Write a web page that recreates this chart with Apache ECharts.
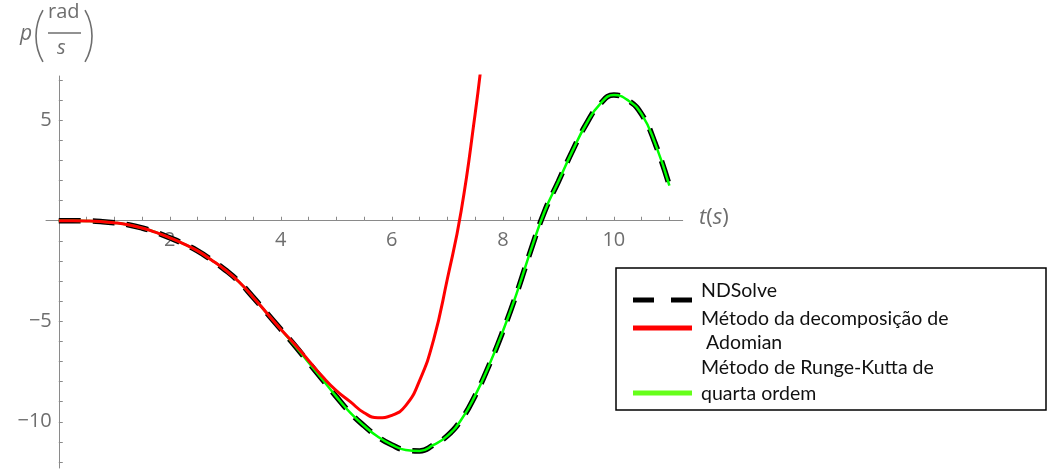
<!DOCTYPE html>
<html>

<head>
    <meta charset='utf-8'>
    <title>p(t)</title>
    <script src='https://cdn.jsdelivr.net/npm/echarts@6/dist/echarts.min.js'></script>
    <style>
        html, body { margin: 0; padding: 0; background: #fff; }
        #chart { width: 1056px; height: 470px; }
    </style>
</head>

<body>
    <div id='chart'></div>

    <script type='text/javascript'>
        // values
        const tSteps = [0, 0.25, 0.5, 0.75, 1, 1.25, 1.5, 1.75, 2, 2.25, 2.5, 2.75, 3, 3.25, 3.5, 3.75, 4,
            4.25, 4.5, 4.75, 5, 5.25, 5.5, 5.75, 6, 6.25, 6.5, 6.75, 7, 7.25, 7.5, 7.75, 8, 8.25, 8.5,
            8.75, 9, 9.25, 9.5, 9.75, 10, 10.25, 10.5, 10.75, 11]
        const pNDSolve = [0, 0, -0.01, -0.04, -0.1, -0.2, -0.36, -0.58, -0.85, -1.15, -1.5, -1.95, -2.45,
            -3.05, -3.8, -4.6, -5.4, -6.2, -7.05, -7.9, -8.75, -9.55, -10.2, -10.75, -11.15, -11.4, -11.45,
            -11.15, -10.7, -9.9, -8.7, -7.2, -5.5, -3.6, -1.5, 0.45, 1.95, 3.45, 4.8, 5.8, 6.25, 6.0, 5.3,
            3.8, 1.75]
        const pRungeKutta = pNDSolve.slice()

        const tAdomian = [0, 0.25, 0.5, 0.75, 1, 1.25, 1.5, 1.75, 2, 2.25, 2.5, 2.75, 3, 3.25, 3.5, 3.75, 4,
            4.25, 4.5, 4.75, 5, 5.25, 5.5, 5.75, 6, 6.25, 6.5, 6.75, 7, 7.25, 7.5, 7.62]
        const pAdomian = [0, 0, -0.01, -0.04, -0.1, -0.2, -0.36, -0.58, -0.85, -1.15, -1.5, -1.95, -2.45,
            -3.05, -3.8, -4.6, -5.4, -6.15, -6.95, -7.75, -8.45, -9.0, -9.55, -9.8, -9.68, -9.2, -7.95,
            -5.95, -2.9, 0.5, 5.3, 8.0]

        const xTicks = [0.5, 1, 1.5, 2, 2.5, 3, 3.5, 4, 4.5, 5, 5.5, 6, 6.5, 7, 7.5, 8, 8.5, 9, 9.5, 10, 10.5, 11]
        const xLabels = [2, 4, 6, 8, 10]
        const yTicks = [-12, -11, -10, -9, -8, -7, -6, -5, -4, -3, -2, -1, 1, 2, 3, 4, 5, 6, 7]
        const yLabels = [-10, -5, 5]

        const legendNames = ['NDSolve', 'Método da decomposição de', ' Adomian', 'Método de Runge-Kutta de', 'quarta ordem']

        const pairs = (xs, ys) => xs.map((x, i) => [x, ys[i]])

        const gray = '#8a8a8a'
        const labelGray = '#6e6e6e'
        const tickFont = 'Open Sans'

        // plot area, and where the axes cross (t = 0, p = 0)
        const gridLeft = 46, gridRight = 1056 - 682.7, gridTop = 76, gridBottom = 2
        const xMin = -0.23, xMax = 11.24, yMin = -12.3, yMax = 7.2
        const plotW = 1056 - gridLeft - gridRight
        const plotH = 470 - gridTop - gridBottom
        const xZeroShift = (0 - xMin) / (xMax - xMin) * plotW
        const yZeroShift = (0 - yMin) / (yMax - yMin) * plotH

        const curve = { type: 'line', smooth: 0.5, smoothConstraint: false, showSymbol: false }

        const chart = echarts.init(document.getElementById('chart'))
        const option = {
            animation: false,
            grid: {
                left: gridLeft, right: gridRight, top: gridTop, bottom: gridBottom,
                containLabel: false, outerBoundsMode: 'none'
            },
            xAxis: {
                type: 'value',
                min: xMin,
                max: xMax,
                position: 'bottom',
                offset: -yZeroShift,
                splitLine: { show: false },
                axisLine: { onZero: false, lineStyle: { color: gray, width: 1 } },
                axisTick: { inside: true, length: 4, customValues: xTicks, lineStyle: { color: gray } },
                axisLabel: {
                    customValues: xLabels, margin: 10, color: labelGray,
                    fontFamily: tickFont, fontSize: 20
                }
            },
            yAxis: {
                type: 'value',
                min: yMin,
                max: yMax,
                position: 'left',
                offset: -xZeroShift,
                splitLine: { show: false },
                axisLine: { onZero: false, lineStyle: { color: gray, width: 1 } },
                axisTick: { inside: true, length: 4, customValues: yTicks, lineStyle: { color: gray } },
                axisLabel: {
                    customValues: yLabels, margin: 7, color: labelGray, align: 'right',
                    fontFamily: tickFont, fontSize: 20,
                    formatter: v => v < 0 ? '\u2212' + Math.abs(v) : String(v)
                }
            },
            series: [Object.assign({}, curve, {
                name: 'NDSolve',
                data: pairs(tSteps, pNDSolve),
                z: 2,
                lineStyle: { color: '#000', width: 5.5, type: [22, 12], cap: 'butt' }
            }), Object.assign({}, curve, {
                name: 'Runge-Kutta',
                data: pairs(tSteps, pRungeKutta),
                z: 3,
                lineStyle: { color: '#00ff00', width: 2.5 }
            }), Object.assign({}, curve, {
                name: 'Adomian',
                data: pairs(tAdomian, pAdomian),
                z: 4,
                lineStyle: { color: '#ff0000', width: 3 }
            })],
            graphic: [
                // axis names
                {
                    type: 'text', left: 699, top: 207,
                    style: {
                        text: '{i|t}(' + '{i|s})', fill: labelGray, font: '22px "Open Sans"',
                        rich: { i: { fontStyle: 'italic', fontSize: 22, fontFamily: 'Open Sans', fill: labelGray } }
                    }
                },
                { type: 'text', left: 20, top: 24, style: { text: 'p', fill: labelGray, font: 'italic 21px "Open Sans"' } },
                {
                    type: 'arc', shape: { cx: 87.8, cy: 36, r: 51.8, startAngle: Math.PI - 0.525, endAngle: Math.PI + 0.525 },
                    style: { stroke: labelGray, lineWidth: 1.6, fill: null }
                },
                { type: 'text', left: 48, top: 2, style: { text: 'rad', fill: labelGray, font: '20px "Open Sans"' } },
                { type: 'line', shape: { x1: 48, y1: 33, x2: 81, y2: 33 }, style: { stroke: labelGray, lineWidth: 1.5 } },
                { type: 'text', left: 57, top: 38, style: { text: 's', fill: labelGray, font: 'italic 20px "Open Sans"' } },
                {
                    type: 'arc', shape: { cx: 40.2, cy: 36, r: 51.8, startAngle: -0.525, endAngle: 0.525 },
                    style: { stroke: labelGray, lineWidth: 1.6, fill: null }
                },
                // legend box
                {
                    type: 'rect', shape: { x: 616, y: 268, width: 430, height: 142 },
                    style: { fill: '#fff', stroke: '#000', lineWidth: 1.5 }, z: 10
                },
                {
                    type: 'line', shape: { x1: 633, y1: 300, x2: 692, y2: 300 }, z: 11,
                    style: { stroke: '#000', lineWidth: 5, lineDash: [21, 17] }
                },
                { type: 'line', shape: { x1: 633, y1: 328, x2: 692, y2: 328 }, z: 11, style: { stroke: '#ff0000', lineWidth: 5 } },
                { type: 'line', shape: { x1: 633, y1: 393, x2: 692, y2: 393 }, z: 11, style: { stroke: '#66ff1a', lineWidth: 5 } },
                { type: 'text', left: 701, top: 281, z: 11, style: { text: legendNames[0], fill: '#111', font: '19.5px Lato' } },
                { type: 'text', left: 701, top: 309, z: 11, style: { text: legendNames[1], fill: '#111', font: '19.5px Lato' } },
                { type: 'text', left: 701, top: 333, z: 11, style: { text: legendNames[2], fill: '#111', font: '19.5px Lato' } },
                { type: 'text', left: 701, top: 358, z: 11, style: { text: legendNames[3], fill: '#111', font: '19.5px Lato' } },
                { type: 'text', left: 701, top: 384, z: 11, style: { text: legendNames[4], fill: '#111', font: '19.5px Lato' } }
            ]
        }
        chart.setOption(option)
    </script>
</body>

</html>
